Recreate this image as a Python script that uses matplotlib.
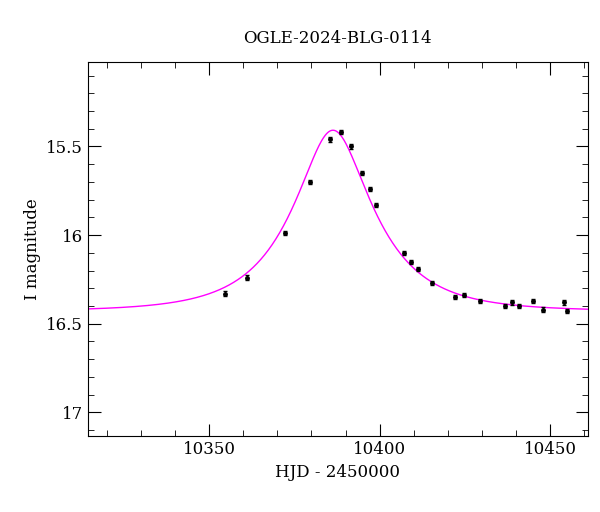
import numpy as np
import matplotlib
matplotlib.use("Agg")
import matplotlib.pyplot as plt
from matplotlib.ticker import MultipleLocator

hjd = [10354.7, 10361.1, 10372.2, 10379.5, 10385.4, 10388.6, 10391.5, 10394.7,
       10397.1, 10398.8, 10407.0, 10409.1, 10411.1, 10415.2, 10422.2, 10424.6,
       10429.5, 10436.8, 10438.9, 10440.9, 10445.0, 10448.0, 10454.1, 10455.0]
mag = [16.33, 16.24, 15.99, 15.70, 15.46, 15.42, 15.50, 15.65,
       15.74, 15.83, 16.10, 16.15, 16.19, 16.27, 16.35, 16.34,
       16.37, 16.40, 16.38, 16.40, 16.37, 16.42, 16.38, 16.43]
err = [0.012] * len(hjd)

# PSPL model parameters
t0, tE, u0, I0, fs = 10386.3, 22.0, 0.415, 16.43, 1.0

t = np.linspace(10314, 10462, 800)
u = np.sqrt(u0**2 + ((t - t0) / tE)**2)
A = (u**2 + 2) / (u * np.sqrt(u**2 + 4))
model = I0 - 2.5 * np.log10(fs * A + 1 - fs)

plt.rcParams["font.family"] = "DejaVu Serif"
fig = plt.figure(figsize=(6, 5.12), dpi=100)
ax = fig.add_axes([0.1467, 0.148, 0.833, 0.73])
ax.plot(t, model, color="magenta", lw=1)
ax.errorbar(hjd, mag, yerr=err, fmt="o", ms=2.5, color="black", capsize=1.5, elinewidth=1)
ax.set_xlim(10314.5, 10461)
ax.set_ylim(17.135, 15.026)
ax.xaxis.set_major_locator(MultipleLocator(50))
ax.xaxis.set_minor_locator(MultipleLocator(10))
ax.yaxis.set_major_locator(MultipleLocator(0.5))
ax.yaxis.set_minor_locator(MultipleLocator(0.1))
ax.yaxis.set_major_formatter(matplotlib.ticker.FuncFormatter(lambda v, p: f"{v:g}"))
ax.tick_params(which="both", direction="in", top=True, right=True, labelsize=12)
ax.tick_params(which="major", length=9)
ax.tick_params(which="minor", length=4.5)
ax.set_xlabel("HJD - 2450000", fontsize=12)
ax.set_ylabel("I magnitude", fontsize=12)
ax.set_title("OGLE-2024-BLG-0114", fontsize=12, pad=14)
fig.savefig("out.png")
